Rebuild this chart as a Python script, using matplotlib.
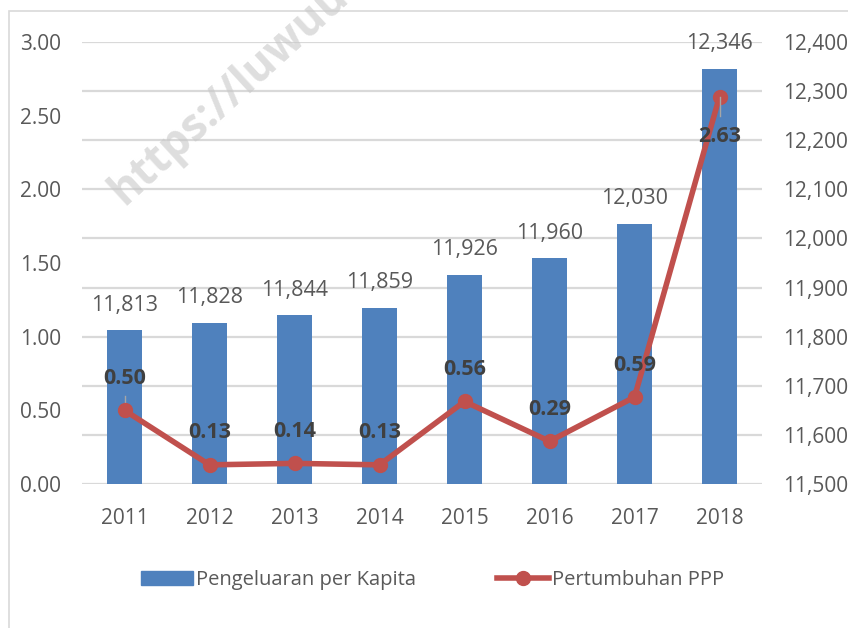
import matplotlib.pyplot as plt
from matplotlib.patches import Rectangle
from matplotlib.lines import Line2D
from matplotlib.ticker import FuncFormatter

plt.rcParams['font.family'] = ['Open Sans', 'DejaVu Sans']

years = ['2011', '2012', '2013', '2014', '2015', '2016', '2017', '2018']
pengeluaran = [11813, 11828, 11844, 11859, 11926, 11960, 12030, 12346]
pertumbuhan = [0.50, 0.13, 0.14, 0.13, 0.56, 0.29, 0.59, 2.63]

bar_color = '#4F81BD'
line_color = '#C0504D'
txt = '#595959'

fig = plt.figure(figsize=(8.48, 6.28), dpi=100)
ax = fig.add_axes([0.0967, 0.2293, 0.8019, 0.7038])
ax2 = ax.twinx()
ax.set_zorder(ax2.get_zorder() + 1)
ax.patch.set_visible(False)

x = range(len(years))

# bars on the right axis
ax2.bar(x, pengeluaran, width=0.41, color=bar_color, zorder=3)
ax2.set_ylim(11500, 12400)
ax2.set_yticks(range(11500, 12401, 100))
ax2.yaxis.set_major_formatter(FuncFormatter(lambda v, p: f'{int(v):,}'))
ax2.grid(axis='y', color='#d9d9d9', linewidth=1.6, zorder=0)
ax2.set_axisbelow(True)
for i, v in enumerate(pengeluaran):
    ax2.annotate(f'{v:,}', (i, v), xytext=(0, 18), textcoords='offset points',
                 ha='center', va='center', fontsize=15.5, color=txt)

# line on the left axis
ax.plot(x, pertumbuhan, color=line_color, linewidth=4, marker='o',
        markersize=10, zorder=5)
ax.set_ylim(0, 3)
ax.set_yticks([0, 0.5, 1, 1.5, 2, 2.5, 3])
ax.yaxis.set_major_formatter(FuncFormatter(lambda v, p: f'{v:.2f}'))
for i, v in enumerate(pertumbuhan):
    dy = -29 if i == len(years) - 1 else 23
    ax.annotate(f'{v:.2f}', (i, v), xytext=(0, dy), textcoords='offset points',
                ha='center', va='center', fontsize=15.5, fontweight='bold',
                color='#404040', zorder=6)
# small leader lines
ax.plot([0, 0], [0.50, 0.60], color='#a6a6a6', linewidth=1, zorder=4)
ax.plot([7, 7], [2.63, 2.50], color='#a6a6a6', linewidth=1, zorder=6)

ax.set_xlim(-0.5, 7.5)
ax.set_xticks(list(x))
ax.set_xticklabels(years)

for a in (ax, ax2):
    for s in a.spines.values():
        s.set_visible(False)
    a.tick_params(length=0, labelsize=15, labelcolor=txt)
ax.tick_params(axis='y', pad=15)
ax.tick_params(axis='x', pad=17)
ax2.tick_params(axis='y', pad=15)

# legend
handles = [Rectangle((0, 0), 1, 1, color=bar_color),
           Line2D([0], [0], color=line_color, linewidth=4, marker='o', markersize=10)]
fig.legend(handles, ['Pengeluaran per Kapita', 'Pertumbuhan PPP'],
           loc='center', bbox_to_anchor=(0.51, 0.076), ncol=2, frameon=False,
           fontsize=14.5, labelcolor=txt, handlelength=2.6, handletextpad=0.15,
           columnspacing=4.0)

# outer chart frame
fig.add_artist(Rectangle((9 / 848, -0.05), 1.0, 1 - 11 / 628 + 0.05,
                         transform=fig.transFigure, fill=False,
                         edgecolor='#d9d9d9', linewidth=1.2))

# watermark
fig.text(0.155, 0.66, 'https://luwuutarakab.bps.go.id', rotation=42.5,
         fontsize=32, fontweight='bold', color='#c8c8c8', alpha=0.6,
         ha='left', va='bottom', rotation_mode='anchor', zorder=10)

fig.savefig('out.png', dpi=100)
